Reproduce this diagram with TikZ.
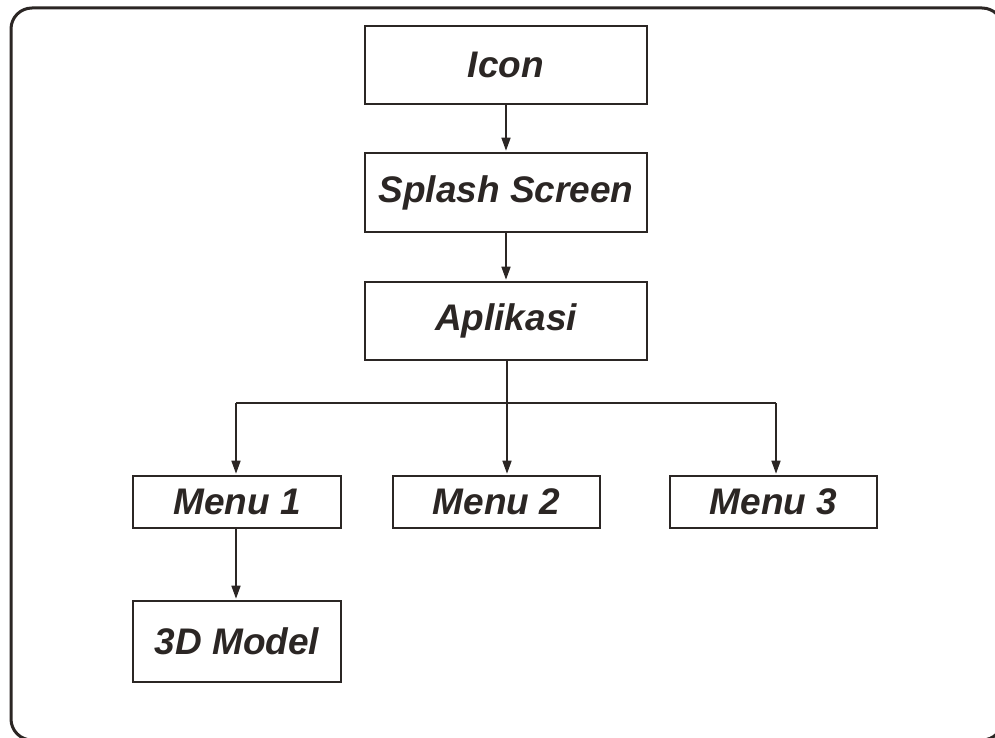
\documentclass[tikz,border=0pt]{standalone}
\usepackage{fontspec}
\setmainfont{Liberation Sans}
\usetikzlibrary{arrows.meta}
\definecolor{ink}{HTML}{2B2624}
\begin{document}
\begin{tikzpicture}[x=1pt,y=-1pt,
  box/.style={draw=ink,line width=2.6pt,fill=white,inner sep=0pt,
    font=\fontsize{37}{40}\selectfont\bfseries\itshape,text=ink},
  conn/.style={draw=ink,line width=1.6pt},
  arr/.style={conn,-{Triangle[length=13pt,width=9pt]},shorten >=1pt}]
\useasboundingbox (0,0) rectangle (995,738);
\begin{scope}
\clip (0,0) rectangle (995,738);
\draw[ink,line width=3pt,rounded corners=21pt] (11,8) rectangle (1003,740);
\end{scope}
\node[box,minimum width=282pt,minimum height=78pt] (icon) at (506,65) {Icon};
\node[box,minimum width=282pt,minimum height=79pt] (splash) at (506,192.5) {Splash Screen};
\node[box,minimum width=282pt,minimum height=78pt] (apl) at (506,321) {Aplikasi};
\node[box,minimum width=208pt,minimum height=52pt] (m1) at (237,502) {Menu 1};
\node[box,minimum width=207pt,minimum height=52pt] (m2) at (496.5,502) {Menu 2};
\node[box,minimum width=207pt,minimum height=52pt] (m3) at (773.5,502) {Menu 3};
\node[box,minimum width=208pt,minimum height=81pt] (model) at (237,641.5) {3D Model};
\coordinate (bus) at (507,403);
\coordinate (b1) at (236,403);
\coordinate (b3) at (776,403);
\draw[arr] (icon.south) -- (splash.north);
\draw[arr] (splash.south) -- (apl.north);
\draw[arr] (apl.south -| bus) -- (bus |- m2.north);
\draw[conn] (b1) -- (b3);
\draw[arr] (b1) -- (b1 |- m1.north);
\draw[arr] (b3) -- (b3 |- m3.north);
\draw[arr] (m1.south -| b1) -- (b1 |- model.north);
\end{tikzpicture}
\end{document}
